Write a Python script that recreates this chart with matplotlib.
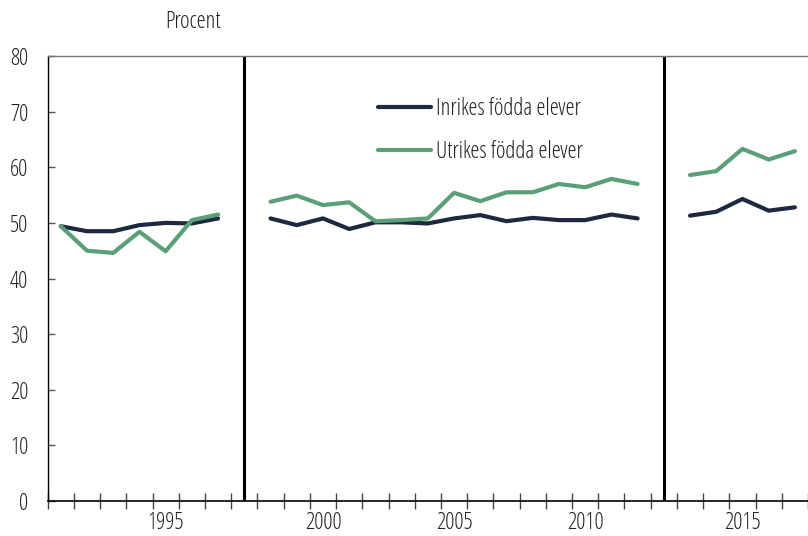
import numpy as np
import matplotlib
matplotlib.use('Agg')
import matplotlib.pyplot as plt

plt.rcParams['font.family'] = ['Open Sans', 'DejaVu Sans']
plt.rcParams['font.stretch'] = 'condensed'
plt.rcParams['font.weight'] = 'normal'

# ar med luckor (None) dar de vertikala linjerna star
years = [1991, 1992, 1993, 1994, 1995, 1996, 1997, None,
         1998, 1999, 2000, 2001, 2002, 2003, 2004, 2005, 2006, 2007, 2008, 2009, 2010, 2011, 2012, None,
         2013, 2014, 2015, 2016, 2017]

inrikes = [49.4, 48.5, 48.5, 49.6, 50.0, 49.9, 50.8, np.nan,
           50.8, 49.6, 50.8, 48.9, 50.1, 50.1, 49.9, 50.8, 51.4, 50.3, 50.9, 50.5, 50.5, 51.5, 50.8, np.nan,
           51.3, 52.0, 54.3, 52.2, 52.8]
utrikes = [49.4, 45.0, 44.6, 48.4, 44.9, 50.5, 51.5, np.nan,
           53.8, 54.9, 53.2, 53.7, 50.3, 50.5, 50.8, 55.4, 53.9, 55.5, 55.5, 57.0, 56.4, 57.9, 57.0, np.nan,
           58.6, 59.3, 63.3, 61.4, 62.9]

labels = ['Inrikes födda elever', 'Utrikes födda elever']
colors = ['#1e2940', '#5a9f78']

x = np.arange(len(years))
gaps = [i for i, y in enumerate(years) if y is None]

fs = 16.5

fig = plt.figure(figsize=(8.08, 5.36), dpi=100)
ax = fig.add_axes([0.059, 0.0653, 0.941, 0.8302])

ax.plot(x, inrikes, color=colors[0], lw=3, label=labels[0], solid_capstyle='round')
ax.plot(x, utrikes, color=colors[1], lw=3, label=labels[1], solid_capstyle='round')

for g in gaps:
    ax.axvline(g, color='black', lw=2.2)

ax.set_xlim(-0.5, 28.09)
ax.set_ylim(0, 80)
ax.set_yticks(range(0, 81, 10))

ax.set_xticks(np.arange(-0.5, 29, 1), minor=True)
major = [i for i, y in enumerate(years) if y is not None and y % 5 == 0]
ax.set_xticks(major)
ax.set_xticklabels([str(years[i]) for i in major])
ax.tick_params(axis='x', which='major', length=0, pad=7, labelsize=fs, labelcolor='#222222')
ax.tick_params(axis='x', which='minor', direction='inout', length=12, width=1, color='#444444')
ax.tick_params(axis='y', direction='in', length=5, width=1, labelsize=fs, pad=14, color='#555555',
               labelcolor='#222222')

ax.spines['right'].set_visible(False)
ax.spines['top'].set_color('#777777')
ax.spines['top'].set_linewidth(1)
ax.spines['left'].set_linewidth(1)
ax.spines['bottom'].set_linewidth(1.2)

fig.text(193 / 808, 1 - 22 / 536, 'Procent', fontsize=fs, ha='center', va='center', color='#222222')

leg = ax.legend(loc='upper left', bbox_to_anchor=(378 / 808, 1 - 97 / 536), bbox_transform=fig.transFigure,
                frameon=False, fontsize=fs, handlelength=2.3, handletextpad=0.25, labelspacing=0.85,
                borderpad=0, borderaxespad=0)
for t in leg.get_texts():
    t.set_color('#222222')

fig.savefig('out.png', dpi=100)
